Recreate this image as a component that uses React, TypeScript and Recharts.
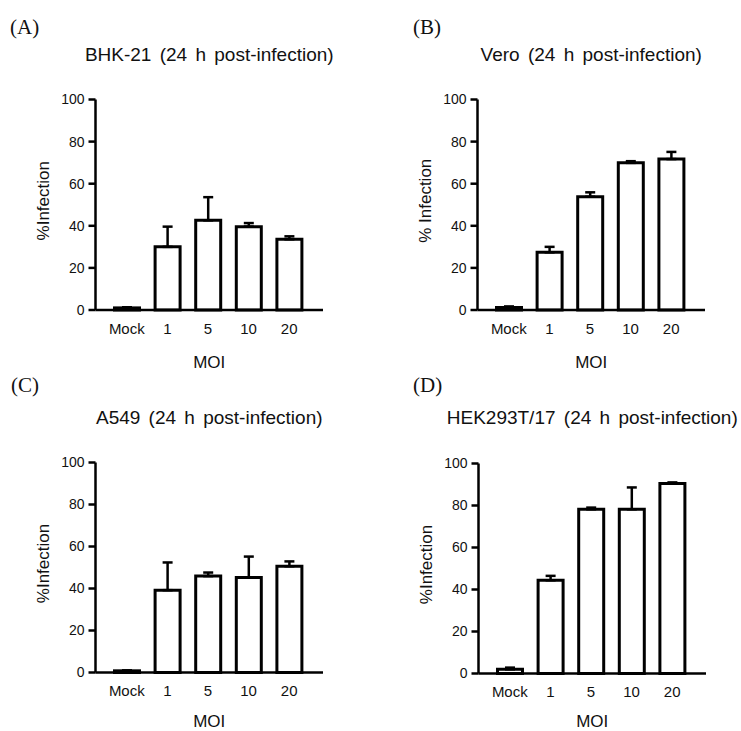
import React from 'react';
import { BarChart, Bar, XAxis, YAxis, ErrorBar } from 'recharts';

// ---- data ----
const categories = ['Mock', '1', '5', '10', '20'];
const yTicks = [0, 20, 40, 60, 80, 100];

const bhkMean = [1, 30, 42.6, 39.6, 33.6];
const bhkErr = [0.3, 9.6, 11, 1.7, 1.4];

const veroMean = [1.2, 27.4, 53.8, 69.9, 71.7];
const veroErr = [0.5, 2.6, 2.1, 0.8, 3.4];

const a549Mean = [0.8, 39.2, 45.9, 45.2, 50.6];
const a549Err = [0.2, 13.2, 1.7, 10, 2.3];

const hekMean = [2, 44.4, 78.2, 78.2, 90.5];
const hekErr = [0.8, 2.1, 0.8, 10.4, 0.5];

const panelLetters = ['(A)', '(B)', '(C)', '(D)'];
const panelTitles = [
  'BHK-21 (24 h post-infection)',
  'Vero (24 h post-infection)',
  'A549 (24 h post-infection)',
  'HEK293T/17 (24 h post-infection)',
];
const yLabels = ['%Infection', '% Infection', '%Infection', '%Infection'];
const xLabel = 'MOI';

const buildRows = (mean: number[], err: number[]) =>
  categories.map((name, i) => ({ name, value: mean[i], err: [0, err[i]] }));

// ---- layout ----
const CW = 371;
const CH = 375;
const Y_W = 60;
const SANS = '"Liberation Sans", Arial, sans-serif';
const SERIF = '"Liberation Serif", "Times New Roman", serif';
const INK = '#111';

type Geo = {
  ox: number;
  oy: number;
  left: number;
  right: number;
  top: number;
  bottom: number;
  titleBase: number;
  letterX: number;
  letterBase: number;
  moiBase: number;
};

const geos: Geo[] = [
  { ox: 0, oy: 0, left: 95.5, right: 323, top: 99.5, bottom: 310, titleBase: 61, letterX: 10, letterBase: 35, moiBase: 367.5 },
  { ox: 370, oy: 0, left: 477.5, right: 705, top: 99.5, bottom: 310, titleBase: 61, letterX: 413, letterBase: 35, moiBase: 367.5 },
  { ox: 0, oy: 365, left: 95.5, right: 323, top: 462.5, bottom: 672.5, titleBase: 424.5, letterX: 11, letterBase: 393, moiBase: 727 },
  { ox: 370, oy: 365, left: 478.5, right: 706, top: 463.5, bottom: 673.5, titleBase: 424.5, letterX: 413, letterBase: 393, moiBase: 727 },
];

const datasets = [
  buildRows(bhkMean, bhkErr),
  buildRows(veroMean, veroErr),
  buildRows(a549Mean, a549Err),
  buildRows(hekMean, hekErr),
];

const axisStroke = { stroke: '#000', strokeWidth: 2.5 };

function YLabel(props: any) {
  const { viewBox, text } = props;
  if (!viewBox) return null;
  const cx = viewBox.x + 7;
  const cy = viewBox.y + viewBox.height / 2 - 4;
  return (
    <text
      x={cx}
      y={cy}
      dy="0.355em"
      transform={`rotate(-90, ${cx}, ${cy})`}
      textAnchor="middle"
      fontSize={17}
      fill={INK}
      fontFamily={SANS}
    >
      {text}
    </text>
  );
}

function Panel({ idx }: { idx: number }) {
  const g = geos[idx];
  const data = datasets[idx];
  const margin = {
    top: g.top - g.oy,
    right: g.ox + CW - g.right,
    left: g.left - g.ox - Y_W,
    bottom: 0,
  };
  const xh = g.oy + CH - g.bottom;
  const moiOffset = g.oy + CH - g.moiBase;
  const titleFs = 19;
  const letterFs = 21;
  const titleCenter = (g.left + g.right) / 2;
  return (
    <>
      <div
        style={{
          position: 'absolute',
          left: g.letterX,
          top: g.letterBase - letterFs * 0.8375,
          fontFamily: SERIF,
          fontSize: letterFs,
          lineHeight: `${letterFs}px`,
          color: INK,
          whiteSpace: 'nowrap',
        }}
      >
        {panelLetters[idx]}
      </div>
      <div
        style={{
          position: 'absolute',
          left: titleCenter - 200,
          width: 400,
          top: g.titleBase - titleFs * 0.8465,
          textAlign: 'center',
          fontFamily: SANS,
          fontSize: titleFs,
          lineHeight: `${titleFs}px`,
          wordSpacing: 3,
          color: INK,
          whiteSpace: 'nowrap',
        }}
      >
        {panelTitles[idx]}
      </div>
      <div style={{ position: 'absolute', left: g.ox, top: g.oy, width: CW, height: CH }}>
        <BarChart width={CW} height={CH} data={data} margin={margin}>
          <XAxis
            dataKey="name"
            type="category"
            interval={0}
            padding={{ left: 11, right: 13.5 }}
            height={xh}
            tickLine={false}
            tickSize={6}
            tickMargin={7}
            axisLine={axisStroke}
            tick={{ fill: INK, fontSize: 15, fontFamily: SANS }}
            label={{
              value: xLabel,
              position: 'insideBottom',
              offset: moiOffset,
              fill: INK,
              fontSize: 17,
              fontFamily: SANS,
            }}
          />
          <YAxis
            type="number"
            domain={[0, 100]}
            ticks={yTicks}
            interval={0}
            width={Y_W}
            tickSize={7}
            tickMargin={4}
            axisLine={axisStroke}
            tickLine={axisStroke}
            tick={{ fill: INK, fontSize: 14, fontFamily: SANS }}
            label={<YLabel text={yLabels[idx]} />}
          />
          <Bar
            dataKey="value"
            fill="#fff"
            stroke="#000"
            strokeWidth={3}
            barSize={25}
            isAnimationActive={false}
          >
            <ErrorBar dataKey="err" direction="y" width={5} stroke="#000" strokeWidth={2.5} />
          </Bar>
        </BarChart>
      </div>
    </>
  );
}

export default function App() {
  return (
    <div
      style={{
        position: 'absolute',
        left: 0,
        top: 0,
        width: 741,
        height: 731,
        overflow: 'hidden',
        background: '#fff',
      }}
    >
      {[0, 1, 2, 3].map((i) => (
        <Panel key={i} idx={i} />
      ))}
    </div>
  );
}
